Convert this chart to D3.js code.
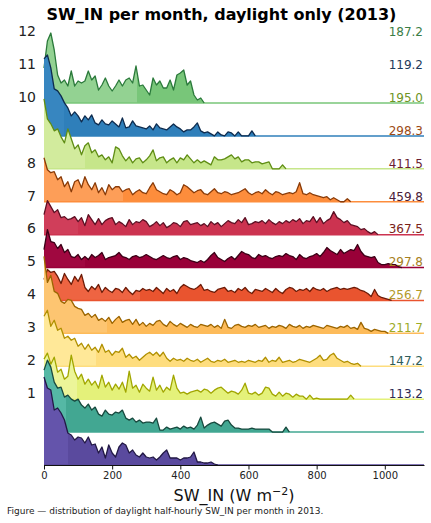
<!DOCTYPE html>
<html>
<head>
<meta charset="utf-8">
<script src="https://cdn.jsdelivr.net/npm/d3@7"></script>
<style>
  body { margin: 0; background: #fff; }
  text { font-family: "DejaVu Sans", sans-serif; }
</style>
</head>
<body>
<div id="chart"></div>
<script>
// months from top ridge to bottom ridge
const months = ['12', '11', '10', '9', '8', '7', '6', '5', '4', '3', '2', '1']
const monthMeans = [187.2, 119.2, 195.0, 298.3, 411.5, 459.8, 367.5, 297.8, 256.7, 211.7, 147.2, 113.2]
const xTicks = [0, 200, 400, 600, 800, 1000]
const binWidth = 10 // W m-2 per bin

// relative frequency per 10 W m-2 bin
const dec = [35, 62, 70, 53, 28, 20, 23, 17, 32, 17, 22, 20, 22, 32, 23, 27, 13, 18, 25, 17,
   12, 17, 23, 17, 23, 25, 20, 37, 17, 18, 13, 8, 25, 18, 22, 15, 15, 23, 13, 28,
   30, 33, 18, 22, 8, 3, 5, 0]
const nov = [77, 81, 68, 47, 45, 40, 33, 28, 20, 24, 20, 14, 20, 16, 21, 13, 11, 16, 12, 11,
   15, 12, 9, 18, 8, 9, 15, 10, 9, 8, 7, 10, 6, 12, 8, 7, 6, 9, 12, 9,
   7, 4, 6, 6, 9, 13, 5, 3, 4, 2, 0, 4, 1, 0, 4, 3, 0, 4, 0, 0, 0, 5, 0]
const oct = [70, 50, 45, 38, 40, 32, 26, 40, 30, 20, 24, 14, 23, 26, 16, 19, 12, 14, 9, 12,
   6, 22, 20, 13, 8, 12, 6, 10, 11, 6, 9, 13, 19, 8, 11, 12, 6, 9, 11, 6,
   11, 9, 14, 10, 6, 9, 6, 8, 6, 4, 12, 9, 9, 10, 12, 14, 10, 12, 7, 9,
   9, 6, 7, 7, 5, 6, 7, 0, 0, 0, 4, 0]
const sep = [44, 32, 29, 30, 22, 25, 15, 20, 10, 20, 22, 14, 25, 17, 12, 19, 9, 14, 7, 17,
   12, 15, 15, 10, 12, 13, 7, 10, 12, 9, 8, 14, 19, 12, 10, 8, 7, 12, 10, 7,
   9, 17, 15, 12, 9, 11, 12, 8, 7, 10, 13, 9, 8, 10, 9, 7, 8, 9, 11, 13,
   9, 7, 9, 10, 8, 12, 9, 7, 10, 9, 7, 8, 9, 8, 10, 19, 8, 7, 9, 7,
   6, 5, 4, 5, 2, 4, 2, 0, 0, 3, 0]
const aug = [20, 34, 28, 22, 25, 17, 18, 15, 16, 18, 13, 17, 9, 20, 15, 10, 16, 10, 14, 16,
   17, 10, 13, 11, 8, 15, 10, 13, 12, 15, 13, 8, 10, 13, 9, 12, 7, 9, 12, 11,
   8, 13, 14, 10, 11, 12, 9, 11, 8, 13, 10, 12, 8, 11, 14, 12, 11, 15, 12, 17,
   10, 11, 13, 12, 14, 11, 15, 12, 10, 13, 11, 14, 12, 15, 13, 16, 11, 14, 13, 18,
   12, 17, 11, 14, 16, 23, 17, 15, 12, 14, 10, 9, 8, 5, 6, 3, 1, 3, 0]
const jul = [18, 38, 26, 25, 19, 23, 15, 18, 11, 10, 13, 8, 11, 8, 13, 10, 12, 15, 8, 10,
   11, 12, 15, 11, 10, 8, 11, 12, 10, 11, 13, 11, 9, 8, 10, 12, 10, 9, 11, 12,
   8, 10, 9, 7, 6, 5, 7, 5, 8, 12, 15, 10, 8, 6, 9, 11, 8, 12, 16, 14,
   13, 10, 9, 13, 11, 12, 10, 9, 11, 12, 11, 14, 12, 11, 8, 13, 10, 9, 11, 12,
   14, 11, 15, 20, 17, 15, 13, 18, 14, 16, 18, 17, 23, 16, 12, 11, 10, 11, 5, 3,
   3, 4, 3, 3, 1, 0]
const jun = [21, 31, 28, 29, 24, 17, 27, 21, 16, 24, 19, 26, 13, 9, 14, 11, 16, 8, 13, 10,
   8, 12, 11, 8, 13, 9, 6, 10, 9, 12, 10, 11, 9, 13, 10, 7, 12, 9, 11, 7,
   13, 16, 14, 12, 11, 13, 16, 10, 11, 9, 8, 11, 12, 13, 9, 10, 8, 12, 10, 13,
   9, 7, 11, 10, 9, 12, 10, 8, 12, 9, 7, 11, 13, 12, 9, 11, 10, 12, 9, 13,
   11, 10, 12, 9, 11, 12, 13, 11, 12, 11, 12, 13, 12, 10, 9, 7, 4, 11, 5, 3,
   2, 1, 0]
const may = [77, 51, 58, 42, 40, 32, 30, 34, 33, 27, 25, 24, 18, 20, 16, 19, 13, 15, 12, 16,
   10, 14, 17, 11, 13, 14, 9, 14, 8, 11, 7, 10, 8, 12, 13, 9, 7, 12, 9, 7,
   10, 8, 6, 9, 7, 6, 9, 8, 7, 9, 6, 8, 5, 14, 6, 5, 8, 9, 7, 6,
   8, 7, 9, 6, 7, 8, 5, 7, 6, 8, 7, 5, 9, 7, 6, 8, 5, 7, 6, 8,
   7, 6, 5, 8, 7, 6, 5, 7, 6, 8, 5, 6, 4, 11, 5, 4, 2, 4, 3, 2,
   2, 0]
const apr = [50, 56, 40, 46, 36, 38, 28, 30, 26, 28, 20, 23, 17, 22, 16, 19, 14, 22, 14, 16,
   11, 15, 14, 18, 9, 12, 8, 10, 6, 9, 12, 14, 11, 14, 10, 14, 8, 5, 8, 6,
   7, 5, 8, 6, 5, 7, 4, 6, 8, 5, 4, 6, 5, 7, 4, 5, 6, 4, 5, 4,
   6, 5, 4, 6, 5, 9, 4, 6, 5, 9, 4, 5, 6, 4, 5, 7, 6, 5, 4, 6,
   8, 11, 6, 7, 11, 13, 8, 6, 4, 5, 3, 2, 3, 0]
const mar = [40, 46, 35, 42, 27, 30, 20, 23, 44, 28, 20, 25, 15, 20, 14, 18, 11, 24, 12, 17,
   9, 15, 10, 17, 7, 28, 11, 14, 7, 15, 11, 8, 22, 9, 14, 7, 12, 9, 24, 11,
   6, 7, 5, 7, 8, 9, 7, 10, 9, 6, 9, 11, 12, 9, 6, 8, 7, 5, 9, 16,
   6, 5, 7, 4, 6, 12, 11, 5, 3, 7, 3, 6, 5, 2, 5, 3, 3, 0, 4, 0,
   1, 0, 0, 0, 0, 0, 0, 0, 0, 0, 4, 0]
const feb = [62, 72, 65, 50, 44, 45, 35, 37, 33, 31, 33, 27, 24, 28, 22, 25, 18, 16, 22, 18,
   17, 20, 19, 22, 14, 12, 14, 10, 12, 9, 10, 10, 9, 14, 2, 2, 5, 3, 4, 5,
   3, 6, 4, 5, 3, 7, 15, 4, 7, 9, 10, 8, 6, 11, 12, 7, 4, 4, 3, 3,
   3, 4, 3, 3, 3, 3, 3, 0, 0, 0, 0, 5, 0]
const jan = [88, 77, 75, 55, 57, 52, 45, 32, 30, 25, 28, 27, 22, 28, 20, 21, 12, 18, 7, 20,
   12, 8, 18, 22, 20, 12, 15, 10, 8, 12, 8, 7, 8, 5, 8, 12, 15, 7, 7, 7,
   5, 7, 7, 8, 13, 3, 3, 2, 2, 3, 1, 0]

const series = [dec, nov, oct, sep, aug, jul, jun, may, apr, mar, feb, jan]

// colours per ridge (top to bottom)
const fillColors = ['#78c679', '#2f7fba', '#c6e68a', '#fd8d3c', '#cc3350', '#990038',
   '#e9542f', '#fdbb5a', '#fedd7e', '#e4f17a', '#42a792', '#5a4a9e']
const lightColors = ['#93d292', '#3786c0', '#d2eb9d', '#fd9e58', '#d03e5a', '#a00840',
   '#ee6442', '#fdc571', '#ffe898', '#ecf599', '#55b8a5', '#6454ab']
const lineColors = ['#2b7a3b', '#0d2b4e', '#5f8d14', '#8a3b08', '#5c0e22', '#3b0016',
   '#6b1a06', '#9b6500', '#b09000', '#a1a600', '#184a3f', '#221845']
const labelColors = ['#3b7d46', '#1e3a5a', '#6e9424', '#9c4a14', '#6a1d31', '#4a2038',
   '#7a2218', '#a68020', '#b39a2a', '#9cab26', '#2f5d5a', '#2c2a52']
const lightEnds = [273, 60, 120, 232, 100, 120, 281, 184, 154, 96, 66, 70]

const width = 431
const height = 523

const svg = d3
   .select('#chart')
   .append('svg')
   .attr('width', width)
   .attr('height', height)

const x = d3.scaleLinear().domain([0, 1115]).range([44, 424])
const row = d3.scalePoint().domain(months).range([103, 465])
const dens = d3.scaleLinear().domain([0, 100]).range([0, 100])

const defs = svg.append('defs')

series.forEach((vals, i) => {
   const grad = defs
      .append('linearGradient')
      .attr('id', 'g' + i)
      .attr('gradientUnits', 'userSpaceOnUse')
      .attr('x1', x(0))
      .attr('x2', x(1115))
      .attr('y1', 0)
      .attr('y2', 0)
   const off = lightEnds[i] / 1115
   grad.append('stop').attr('offset', 0).attr('stop-color', lightColors[i])
   grad.append('stop').attr('offset', off).attr('stop-color', lightColors[i])
   grad.append('stop').attr('offset', off).attr('stop-color', fillColors[i])
   grad.append('stop').attr('offset', 1).attr('stop-color', fillColors[i])
})

const ridges = svg.append('g')

series.forEach((vals, i) => {
   const base = row(months[i])
   const pts = vals.map((v, k) => [k * binWidth, v])
   const g = ridges.append('g')

   const area = d3
      .area()
      .x(d => x(d[0]))
      .y0(base)
      .y1(d => base - dens(d[1]))
   const line = d3
      .line()
      .x(d => x(d[0]))
      .y(d => base - dens(d[1]))

   g.append('path')
      .attr('d', area(pts))
      .attr('fill', `url(#g${i})`)

   g.append('line')
      .attr('x1', x(0))
      .attr('x2', x(1115))
      .attr('y1', base)
      .attr('y2', base)
      .attr('stroke', fillColors[i])
      .attr('stroke-width', 1.5)

   g.append('path')
      .attr('d', line(pts))
      .attr('fill', 'none')
      .attr('stroke', lineColors[i])
      .attr('stroke-width', 1.3)
      .attr('stroke-linejoin', 'round')
})

// month labels and means (drawn a little above the ridges)
svg.append('g')
   .selectAll('text')
   .data(months)
   .enter()
   .append('text')
   .attr('x', 36)
   .attr('y', d => row(d) - 67)
   .attr('text-anchor', 'end')
   .attr('font-size', 14)
   .attr('fill', '#222')
   .text(d => d)

svg.append('g')
   .selectAll('text')
   .data(monthMeans)
   .enter()
   .append('text')
   .attr('x', 423)
   .attr('y', (d, i) => row(months[i]) - 67)
   .attr('text-anchor', 'end')
   .attr('font-size', 12)
   .attr('fill', (d, i) => labelColors[i])
   .text(d => d.toFixed(1))

// x axis
const axis = svg
   .append('g')
   .attr('transform', `translate(0,${row('1')})`)
   .call(d3.axisBottom(x)
      .tickValues(xTicks)
      .tickFormat(d3.format('d'))
      .tickSize(4.5)
      .tickSizeOuter(0)
      .tickPadding(2.5))
axis.select('.domain').attr('stroke', '#111').attr('stroke-width', 1.2)
axis.selectAll('.tick line').attr('stroke', '#111')
axis.selectAll('.tick text')
   .attr('font-family', '"DejaVu Sans", sans-serif')
   .attr('font-size', 10)
   .attr('fill', '#222')

const xl = svg
   .append('text')
   .attr('x', 234)
   .attr('y', 501)
   .attr('text-anchor', 'middle')
   .attr('font-size', 16)
   .attr('fill', '#111')
xl.append('tspan').text('SW_IN (W m')
xl.append('tspan').attr('font-size', 11).attr('dy', -6).text('−2')
xl.append('tspan').attr('dy', 6).text(')')

svg.append('text')
   .attr('x', 221.5)
   .attr('y', 19.5)
   .attr('text-anchor', 'middle')
   .attr('font-size', 16)
   .attr('font-weight', 'bold')
   .attr('fill', '#000')
   .text('SW_IN per month, daylight only (2013)')

svg.append('text')
   .attr('x', 7)
   .attr('y', 514)
   .attr('font-size', 9)
   .attr('fill', '#222')
   .text('Figure — distribution of daylight half-hourly SW_IN per month in 2013.')
</script>
</body>
</html>
